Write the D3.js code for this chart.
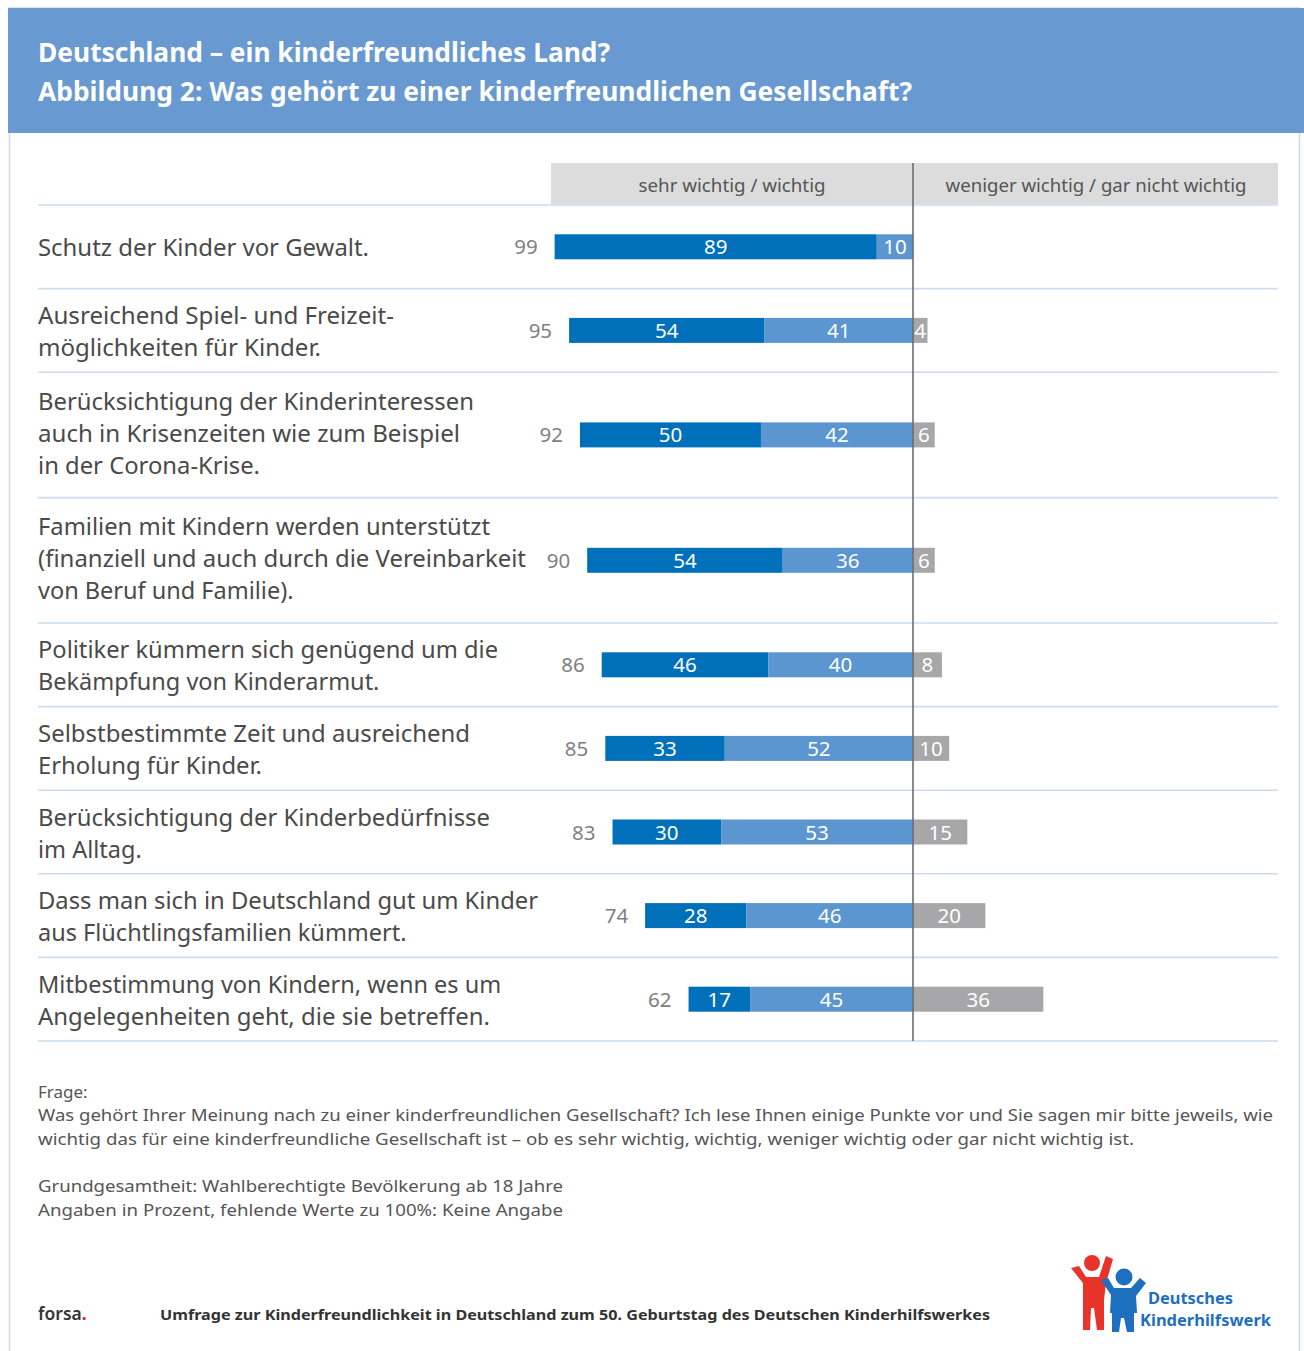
<!DOCTYPE html>
<html><head><meta charset="utf-8">
<script src="https://cdn.jsdelivr.net/npm/d3@7"></script>
<style>html,body{margin:0;padding:0;background:#fff;}svg{display:block;font-family:"Noto Sans",sans-serif;}</style>
</head><body>
<script>
const titleLines = ["Deutschland – ein kinderfreundliches Land?", "Abbildung 2: Was gehört zu einer kinderfreundlichen Gesellschaft?"];
const columnHeads = ["sehr wichtig / wichtig", "weniger wichtig / gar nicht wichtig"];
const categories = [
  ["Schutz der Kinder vor Gewalt."],
  ["Ausreichend Spiel- und Freizeit-", "möglichkeiten für Kinder."],
  ["Berücksichtigung der Kinderinteressen", "auch in Krisenzeiten wie zum Beispiel", "in der Corona-Krise."],
  ["Familien mit Kindern werden unterstützt", "(finanziell und auch durch die Vereinbarkeit", "von Beruf und Familie)."],
  ["Politiker kümmern sich genügend um die", "Bekämpfung von Kinderarmut."],
  ["Selbstbestimmte Zeit und ausreichend", "Erholung für Kinder."],
  ["Berücksichtigung der Kinderbedürfnisse", "im Alltag."],
  ["Dass man sich in Deutschland gut um Kinder", "aus Flüchtlingsfamilien kümmert."],
  ["Mitbestimmung von Kindern, wenn es um", "Angelegenheiten geht, die sie betreffen."]
];
const sehrWichtig = [89, 54, 50, 54, 46, 33, 30, 28, 17];
const wichtig = [10, 41, 42, 36, 40, 52, 53, 46, 45];
const totalWichtig = [99, 95, 92, 90, 86, 85, 83, 74, 62];
const wenigerWichtig = [null, 4, 6, 6, 8, 10, 15, 20, 36];
const footnoteLines = [
  "Frage:",
  "Was gehört Ihrer Meinung nach zu einer kinderfreundlichen Gesellschaft? Ich lese Ihnen einige Punkte vor und Sie sagen mir bitte jeweils, wie",
  "wichtig das für eine kinderfreundliche Gesellschaft ist – ob es sehr wichtig, wichtig, weniger wichtig oder gar nicht wichtig ist.",
  "",
  "Grundgesamtheit: Wahlberechtigte Bevölkerung ab 18 Jahre",
  "Angaben in Prozent, fehlende Werte zu 100%: Keine Angabe"
];
const sourceText = "forsa";
const captionText = "Umfrage zur Kinderfreundlichkeit in Deutschland zum 50. Geburtstag des Deutschen Kinderhilfswerkes";
const logoText = ["Deutsches", "Kinderhilfswerk"];

const W = 1304, H = 1351;
const C = {dark:"#0070ba", light:"#5b96d0", gray:"#a7a7a9", head:"#6899d0", text:"#4a4a4a", sep:"#cddbee"};

const svg = d3.select("body").append("svg").attr("width", W).attr("height", H);

function fit(sel, w){
  sel.each(function(){
    const len = this.getComputedTextLength();
    if (Math.abs(len - w) > 2) d3.select(this).attr("textLength", w).attr("lengthAdjust", "spacingAndGlyphs");
  });
}

// frame
svg.append("rect").attr("x", 9.5).attr("y", 8).attr("width", 1290).attr("height", 1360).attr("fill","none").attr("stroke","#c9d9ef").attr("stroke-width",1.5);
// header band
svg.append("rect").attr("x", 8).attr("y", 8).attr("width", W-8).attr("height", 125).attr("fill", C.head);
const tW = [572, 874];
titleLines.forEach((t,i)=>{
  svg.append("text").attr("x", 38).attr("y", 62 + i*39).attr("fill","#fff").attr("font-size",27).attr("font-weight",700).text(t).call(fit, tW[i]);
});

// scales
const x = d3.scaleLinear().domain([-100, 100]).range([551, 1275]);
const unit = 41.8;
const weights = categories.map(c => Math.max(2, c.length));
const top0 = 205;
const cum = d3.cumsum(weights);
const y = d3.scaleLinear().domain([0, d3.sum(weights)]).range([top0, top0 + d3.sum(weights)*unit]);
const rowTop = i => y(i===0?0:cum[i-1]);
const rowBot = i => y(cum[i]);
const rowMid = i => (rowTop(i)+rowBot(i))/2;

// column header
svg.append("rect").attr("x", x(-100)).attr("y", 163).attr("width", 1278 - x(-100)).attr("height", 41).attr("fill", "#dcdcdc");
svg.append("text").attr("x", (x(-100)+x(0))/2).attr("y", 192).attr("text-anchor","middle").attr("font-size",18).attr("fill","#555").text(columnHeads[0]).call(fit,187);
svg.append("text").attr("x", 1096).attr("y", 192).attr("text-anchor","middle").attr("font-size",18).attr("fill","#555").text(columnHeads[1]).call(fit,301);

// separators
const sepYs = [top0].concat(categories.map((c,i)=>rowBot(i)));
svg.selectAll("line.sep").data(sepYs).join("line").attr("class","sep")
  .attr("x1", 38).attr("x2", 1278).attr("y1", d=>d).attr("y2", d=>d)
  .attr("stroke", C.sep).attr("stroke-width", 1.6);

// labels
const labelWidths = [[331],[356,283],[436,422,222],[452,488,257],[460,341],[432,224],[452,105],[500,369],[465,452]];
categories.forEach((lines,i)=>{
  const n = lines.length;
  const off = n === 3 ? 7 : 9.5;
  lines.forEach((t,j)=>{
    svg.append("text").attr("x", 38).attr("y", rowMid(i) + off + (j-(n-1)/2)*32)
      .attr("font-size", 23.5).attr("fill", C.text).text(t).call(fit, labelWidths[i][j]);
  });
});

// bars
const bh = 25;
const g = svg.append("g");
const rows = categories.map((c,i)=>({i, s:sehrWichtig[i], w:wichtig[i], t:totalWichtig[i], n:wenigerWichtig[i]}));
g.selectAll("rect.s").data(rows).join("rect").attr("class","s")
  .attr("x", d=>x(-(d.s+d.w))).attr("width", d=>x(-d.w)-x(-(d.s+d.w)))
  .attr("y", d=>rowMid(d.i)-bh/2).attr("height", bh).attr("fill", C.dark);
g.selectAll("rect.w").data(rows).join("rect").attr("class","w")
  .attr("x", d=>x(-d.w)).attr("width", d=>x(0)-x(-d.w))
  .attr("y", d=>rowMid(d.i)-bh/2).attr("height", bh).attr("fill", C.light);
g.selectAll("rect.n").data(rows.filter(d=>d.n)).join("rect").attr("class","n")
  .attr("x", x(0)).attr("width", d=>x(d.n)-x(0))
  .attr("y", d=>rowMid(d.i)-bh/2).attr("height", bh).attr("fill", C.gray);

const vf = 20.5;
g.selectAll("text.s").data(rows).join("text").attr("class","s")
  .attr("x", d=>(x(-(d.s+d.w))+x(-d.w))/2).attr("y", d=>rowMid(d.i)+7.5).attr("text-anchor","middle")
  .attr("font-size", vf).attr("fill","#fff").text(d=>d.s);
g.selectAll("text.w").data(rows).join("text").attr("class","w")
  .attr("x", d=>(x(-d.w)+x(0))/2).attr("y", d=>rowMid(d.i)+7.5).attr("text-anchor","middle")
  .attr("font-size", vf).attr("fill","#fff").text(d=>d.w);
g.selectAll("text.n").data(rows.filter(d=>d.n)).join("text").attr("class","n")
  .attr("x", d=>(x(0)+x(d.n))/2).attr("y", d=>rowMid(d.i)+7.5).attr("text-anchor","middle")
  .attr("font-size", vf).attr("fill","#fff").text(d=>d.n);
g.selectAll("text.t").data(rows).join("text").attr("class","t")
  .attr("x", d=>x(-d.t)-17).attr("y", d=>rowMid(d.i)+7.5).attr("text-anchor","end")
  .attr("font-size", vf).attr("fill","#7f7f7f").text(d=>d.t);

// center line
svg.append("line").attr("x1", x(0)).attr("x2", x(0)).attr("y1", 163).attr("y2", rowBot(categories.length-1))
  .attr("stroke", "#6d6d6d").attr("stroke-width", 1.6);

// footnotes
const fW = [50, 1235, 1096, 0, 525, 525];
const fY = [1098, 1121, 1145, 0, 1192, 1216];
footnoteLines.forEach((t,i)=>{
  if(!t) return;
  svg.append("text").attr("x", 38).attr("y", fY[i]).attr("font-size", 17).attr("fill","#555").text(t).call(fit, fW[i]);
});

// source line
const src = svg.append("text").attr("x", 38).attr("y", 1320).attr("font-size", 17.5).attr("font-weight",600).attr("fill","#333").text(sourceText);
const srcLen = src.node().getComputedTextLength();
svg.append("text").attr("x", 38 + srcLen).attr("y", 1320).attr("font-size", 17.5).attr("font-weight",700).attr("fill","#e2231a").text(".");
svg.append("text").attr("x", 160).attr("y", 1320).attr("font-size", 15).attr("font-weight",700).attr("fill","#333").text(captionText).call(fit, 830);

// logo
const red = "#e8332a", blue = "#1f6fbf";
const lg = svg.append("g");
lg.append("circle").attr("cx", 1092).attr("cy", 1263).attr("r", 8).attr("fill", red);
lg.append("path").attr("d","M1071,1268 L1079,1266 L1086,1277 L1099,1277 L1106,1256 L1113,1259 L1106,1283 L1104,1300 L1083,1300 L1083,1283 Z").attr("fill", red);
lg.append("path").attr("d","M1083,1300 L1104,1300 L1104,1330 L1097,1330 L1094,1308 L1091,1308 L1090,1330 L1083,1330 Z").attr("fill", red);
lg.append("circle").attr("cx", 1124).attr("cy", 1277).attr("r", 8.5).attr("fill", blue);
lg.append("path").attr("d","M1101,1280 L1108,1278 L1114,1288 L1131,1288 L1140,1278 L1146,1283 L1136,1296 L1137,1313 L1110,1313 L1111,1295 Z").attr("fill", blue);
lg.append("path").attr("d","M1112,1313 L1134,1313 L1134,1332 L1127,1332 L1124,1318 L1121,1318 L1119,1332 L1112,1332 Z").attr("fill", blue);
lg.append("text").attr("x", 1148).attr("y", 1304).attr("font-size", 15.5).attr("font-weight",700).attr("fill", blue).text(logoText[0]).call(fit, 85);
lg.append("text").attr("x", 1140).attr("y", 1326).attr("font-size", 15.5).attr("font-weight",700).attr("fill", blue).text(logoText[1]).call(fit, 131);
</script>
</body></html>
